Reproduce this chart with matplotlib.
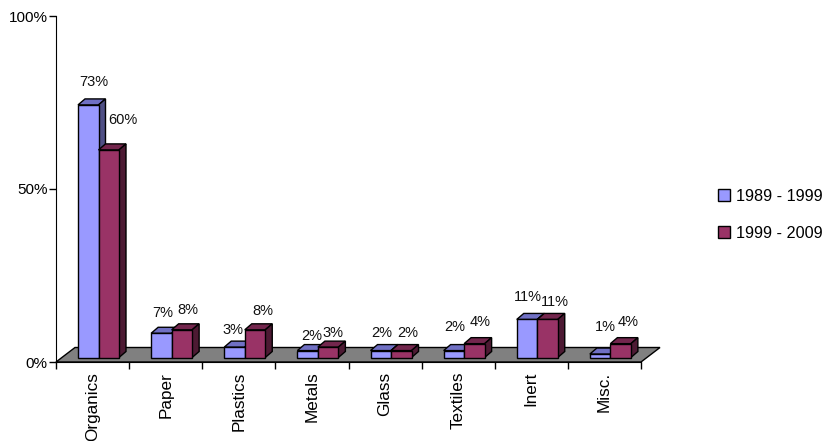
import matplotlib
matplotlib.use('Agg')
import matplotlib.pyplot as plt
from matplotlib.patches import Polygon, Patch

plt.rcParams['font.family'] = ['Liberation Sans', 'DejaVu Sans']

categories = ['Organics', 'Paper', 'Plastics', 'Metals', 'Glass', 'Textiles', 'Inert', 'Misc.']
series_names = ['1989 - 1999', '1999 - 2009']
values_1989 = [73, 7, 3, 2, 2, 2, 11, 1]
values_1999 = [60, 8, 8, 3, 2, 4, 11, 4]
y_ticks = [0, 50, 100]
y_tick_labels = ['0%', '50%', '100%']

# label nudges in pixels from the top centre of each bar
nudge_1989 = [(6, 23), (1, 20), (-2, 17), (4, 15), (1, 18), (1, 24), (1, 22), (5, 27)]
nudge_1999 = [(14, 30), (6, 20), (8, 19), (5, 14), (7, 18), (6, 22), (7.5, 17), (7, 22)]

W, H = 826, 441
fig = plt.figure(figsize=(W / 100, H / 100), dpi=100)
ax = fig.add_axes([56 / W, 1 - 362 / H, 585 / W, 346 / H])
ax.set_xlim(0, 8)
ax.set_ylim(0, 100)
ax.patch.set_visible(False)

px = 8 / 585    # one pixel in x data units
py = 100 / 346  # one pixel in y data units


def draw_bar(x, width, v, front, top, side):
  # a front face with the top and side faces pushed back in depth
  base = 4.5 * py
  h = base + v
  dx, dy = 7 * px, 6 * py
  ax.add_patch(Polygon([(x, h), (x + width, h), (x + width + dx, h + dy), (x + dx, h + dy)],
                       fc=top, ec='black', lw=1, zorder=3, clip_on=False))
  ax.add_patch(Polygon([(x + width, base), (x + width + dx, base + dy), (x + width + dx, h + dy), (x + width, h)],
                       fc=side, ec='black', lw=1, zorder=3, clip_on=False))
  ax.bar(x, v, width=width, bottom=base, align='edge', color=front, edgecolor='black', lw=1, zorder=3)
  return x + width / 2, h


# floor of the box
ax.add_patch(Polygon([(0, 0), (8, 0), (8 + 19 * px, 14.5 * py), (19 * px, 14.5 * py)],
                     fc='#808080', ec='black', lw=1, zorder=1, clip_on=False))

bar_w = 20.5 * px
offset = 22 * px
for i in range(len(categories)):
  x0 = i + offset
  for x, v, nudge, colors in [
    (x0, values_1989[i], nudge_1989[i], ('#9999FF', '#7070C4', '#4F4F85')),
    (x0 + bar_w, values_1999[i], nudge_1999[i], ('#993366', '#73264D', '#4D1A33')),
  ]:
    cx, h = draw_bar(x, bar_w, v, *colors)
    ax.annotate('%d%%' % v, (cx, h), xytext=(nudge[0] * 0.72, nudge[1] * 0.72),
                textcoords='offset points', ha='center', va='center',
                fontsize=10.5, color='#111111', zorder=5)

for s in ['top', 'right']:
  ax.spines[s].set_visible(False)
ax.set_yticks(y_ticks)
ax.set_yticklabels(y_tick_labels, fontsize=11)
ax.tick_params(axis='y', length=5, width=1, pad=1)

ax.set_xticks(range(9))
ax.set_xticklabels([])
ax.tick_params(axis='x', which='major', length=5, width=1)
ax.set_xticks([i + 0.5 for i in range(8)], minor=True)
ax.set_xticklabels(categories, minor=True, rotation=90, fontsize=12.3, ha='center', va='top')
ax.tick_params(axis='x', which='minor', length=0, pad=7)

handles = [Patch(fc='#9999FF', ec='black', lw=1), Patch(fc='#993366', ec='black', lw=1)]
fig.legend(handles, series_names, loc='center left', bbox_to_anchor=(703 / W, 1 - 215 / H),
           fontsize=11.7, frameon=False, handlelength=0.75, handleheight=0.75,
           handletextpad=0.4, labelspacing=1.35)

fig.savefig('out.png', dpi=100)
